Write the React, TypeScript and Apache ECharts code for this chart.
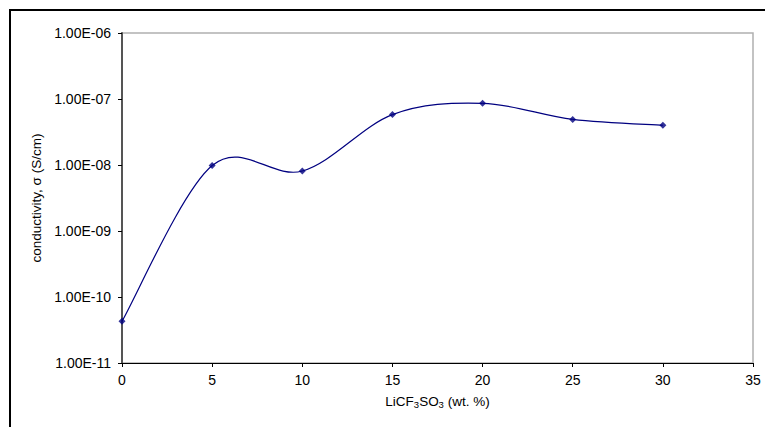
import React, { useEffect, useRef } from "react";
import * as echarts from "echarts";

const wtPercent = [0, 5, 10, 15, 20, 25, 30];
const conductivity = [4.3e-11, 9.8e-9, 8.1e-9, 5.8e-8, 8.6e-8, 4.9e-8, 4.0e-8];
const xTicks = [0, 5, 10, 15, 20, 25, 30, 35];
const yMin = 1e-11;
const yMax = 1e-6;

function fmtExp(v: number): string {
  const e = Math.round(Math.log10(v));
  const sign = e < 0 ? "-" : "+";
  return `1.00E${sign}${String(Math.abs(e)).padStart(2, "0")}`;
}

export default function App() {
  const ref = useRef<HTMLDivElement>(null);
  useEffect(() => {
    if (!ref.current) return;
    const chart = echarts.init(ref.current, undefined, { renderer: "svg" });
    const font = "Liberation Sans, Arial, sans-serif";
    const points = wtPercent.map((x, i) => [x, conductivity[i]]);
    const n = points.length;
    chart.setOption({
      animation: false,
      backgroundColor: "#ffffff",
      textStyle: { fontFamily: font },
      graphic: [
        {
          type: "rect",
          shape: { x: 10, y: 10, width: 800, height: 500 },
          style: { fill: "none", stroke: "#000000", lineWidth: 2 },
          silent: true,
        },
      ],
      grid: {
        left: 122,
        top: 33,
        right: 12,
        bottom: 64,
        show: true,
        borderColor: "#b0b0b0",
        borderWidth: 1.5,
        backgroundColor: "transparent",
      },
      xAxis: {
        type: "value",
        min: xTicks[0],
        max: xTicks[xTicks.length - 1],
        interval: 5,
        name: "{a|LiCF}{s|3}{a|SO}{s|3}{a| (wt. %)}",
        nameLocation: "middle",
        nameGap: 30,
        nameTextStyle: {
          rich: {
            a: { fontSize: 13.5, color: "#000", fontFamily: font, lineHeight: 16 },
            s: { fontSize: 9.5, color: "#000", fontFamily: font, lineHeight: 9, verticalAlign: "bottom" },
          },
        },
        axisLine: { show: true, onZero: false, lineStyle: { color: "#000000", width: 1.2 } },
        axisTick: { show: true, length: 4, lineStyle: { color: "#000000" } },
        axisLabel: { color: "#000", fontSize: 14, margin: 10, fontFamily: font },
        splitLine: { show: false },
      },
      yAxis: {
        type: "log",
        logBase: 10,
        min: yMin,
        max: yMax,
        name: "conductivity, σ (S/cm)",
        nameLocation: "middle",
        nameGap: 78,
        nameTextStyle: { fontSize: 13.5, color: "#000", fontFamily: font },
        axisLine: { show: true, lineStyle: { color: "#555555", width: 2 } },
        axisTick: { show: true, length: 4, lineStyle: { color: "#000000" } },
        axisLabel: { color: "#000", fontSize: 14, margin: 11, fontFamily: font, formatter: (v: number) => fmtExp(v) },
        splitLine: { show: false },
      },
      series: [
        {
          type: "custom",
          data: points,
          clip: true,
          silent: true,
          renderItem: (params: any, api: any) => {
            const i = params.dataIndex;
            if (i >= n - 1) return null;
            const c = (k: number) => {
              const kk = Math.max(0, Math.min(n - 1, k));
              return api.coord(points[kk]);
            };
            const p0 = c(i - 1);
            const p1 = c(i);
            const p2 = c(i + 1);
            const p3 = c(i + 2);
            const t = 1 / 6;
            return {
              type: "bezierCurve",
              shape: {
                x1: p1[0],
                y1: p1[1],
                cpx1: p1[0] + (p2[0] - p0[0]) * t,
                cpy1: p1[1] + (p2[1] - p0[1]) * t,
                cpx2: p2[0] - (p3[0] - p1[0]) * t,
                cpy2: p2[1] - (p3[1] - p1[1]) * t,
                x2: p2[0],
                y2: p2[1],
              },
              style: { stroke: "#000080", lineWidth: 1.2, fill: "none" },
            };
          },
          z: 2,
        },
        {
          type: "scatter",
          data: points,
          symbol: "diamond",
          symbolSize: 7,
          itemStyle: { color: "#000080" },
          z: 3,
        },
      ],
    });
    return () => chart.dispose();
  }, []);
  return (
    <div
      ref={ref}
      style={{ position: "fixed", left: 0, top: 0, width: 765, height: 427, background: "#fff" }}
    />
  );
}
